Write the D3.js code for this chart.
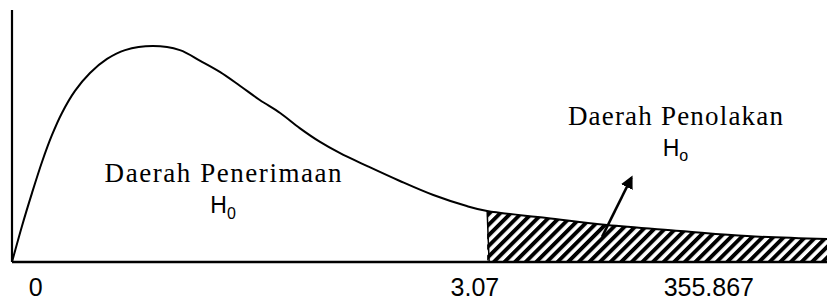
<!DOCTYPE html>
<html>
<head>
  <meta charset="utf-8">
  <title>daerah penolakan</title>
  <script src="https://cdnjs.cloudflare.com/ajax/libs/d3/7.8.5/d3.min.js"></script>
  <style>
    body { margin: 0; background: #fff; }
    .serif { font-family: 'Liberation Serif', 'Times New Roman', serif; }
    .sans { font-family: 'Liberation Sans', Arial, sans-serif; }
  </style>
</head>
<body>
<script>
var width = 827,
    height = 303;

// kurva (unit sumbu x 0..100, kepadatan 0..1)
var kurvaX = [0, 1.23, 2.45, 3.68, 4.91, 6.13, 7.73, 9.57, 11.66, 13.87, 17.3, 20.6, 23.1, 25.5, 28.0, 30.4, 32.9, 35.3, 37.8, 40.2, 43.6, 47.6, 51.7, 55.8, 58.3, 65.6, 73.0, 82.0, 90.2, 100];
var kurvaY = [0, 0.167, 0.319, 0.463, 0.588, 0.69, 0.792, 0.875, 0.94, 0.981, 1.0, 0.981, 0.931, 0.88, 0.815, 0.75, 0.69, 0.62, 0.556, 0.505, 0.444, 0.375, 0.31, 0.259, 0.236, 0.204, 0.171, 0.144, 0.12, 0.106];
var batasKritis = 58.3; // awal daerah penolakan

var labelTick = ["0", "3.07", "355.867"];
var posTick = [2.9, 56.8, 85.5];

var svg = d3.select("body").append("svg").attr("width", width).attr("height", height);

var x = d3.scaleLinear().domain([0, 100]).range([12, 827]);
var y = d3.scaleLinear().domain([0, 1]).range([262, 46]);

var data = kurvaX.map(function(d, i) { return { x: d, y: kurvaY[i] }; });

// arsiran
var defs = svg.append("defs");
var pat = defs.append("pattern")
  .attr("id", "arsir")
  .attr("patternUnits", "userSpaceOnUse")
  .attr("width", 7.5).attr("height", 7.5)
  .attr("patternTransform", "rotate(45)");
pat.append("rect")
  .attr("x", 0).attr("y", 0).attr("width", 3.9).attr("height", 7.5)
  .attr("fill", "#000");

var tolak = data.filter(function(d) { return d.x >= batasKritis; });
var area = d3.area()
  .x(function(d) { return x(d.x); })
  .y0(y(0))
  .y1(function(d) { return y(d.y); })
  .curve(d3.curveCatmullRom);

svg.append("path")
  .datum(tolak)
  .attr("d", area)
  .attr("fill", "url(#arsir)");

svg.append("line")
  .attr("x1", x(batasKritis)).attr("y1", y(tolak[0].y))
  .attr("x2", x(batasKritis) + 2).attr("y2", y(0))
  .attr("stroke", "#000").attr("stroke-width", 1.5);

// kurva
var garis = d3.line()
  .x(function(d) { return x(d.x); })
  .y(function(d) { return y(d.y); })
  .curve(d3.curveCatmullRom);

svg.append("path")
  .datum(data)
  .attr("d", garis)
  .attr("fill", "none")
  .attr("stroke", "#000")
  .attr("stroke-width", 2);

// sumbu
svg.append("line")
  .attr("x1", x(0)).attr("y1", 10).attr("x2", x(0)).attr("y2", y(0))
  .attr("stroke", "#000").attr("stroke-width", 2.2);
svg.append("line")
  .attr("x1", x(0)).attr("y1", y(0)).attr("x2", x(100)).attr("y2", y(0))
  .attr("stroke", "#000").attr("stroke-width", 2.4);

svg.selectAll("text.tick")
  .data(labelTick)
  .enter().append("text")
  .attr("class", "tick sans")
  .attr("x", function(d, i) { return x(posTick[i]); })
  .attr("y", 296)
  .attr("text-anchor", "middle")
  .attr("font-size", 25)
  .text(function(d) { return d; });

// panah
defs.append("marker")
  .attr("id", "kepala")
  .attr("viewBox", "0 0 10 10")
  .attr("refX", 8).attr("refY", 5)
  .attr("markerWidth", 5).attr("markerHeight", 5)
  .attr("markerUnits", "strokeWidth")
  .attr("orient", "auto")
  .append("path")
  .attr("d", "M0,0 L10,5 L0,10 z")
  .attr("fill", "#000");

svg.append("line")
  .attr("x1", x(72.4)).attr("y1", y(0.116))
  .attr("x2", x(76.0)).attr("y2", y(0.39))
  .attr("stroke", "#000").attr("stroke-width", 2.6)
  .attr("marker-end", "url(#kepala)");

// keterangan
function keterangan(cx, by, teks, lebar, sub, subBase) {
  svg.append("text")
    .attr("class", "serif")
    .attr("x", cx).attr("y", by)
    .attr("text-anchor", "middle")
    .attr("font-size", 27)
    .attr("textLength", lebar)
    .attr("lengthAdjust", "spacing")
    .text(teks);
  var h = svg.append("text")
    .attr("class", "sans")
    .attr("x", cx).attr("y", by + 31)
    .attr("text-anchor", "middle")
    .attr("font-size", 23);
  h.append("tspan").text("H");
  h.append("tspan").attr("dy", subBase).attr("font-size", 16).text(sub);
}

keterangan(x(25.9), 182, "Daerah Penerimaan", 237, "0", 6);
keterangan(x(81.4), 125, "Daerah Penolakan", 215, "o", 5);
</script>
</body>
</html>
